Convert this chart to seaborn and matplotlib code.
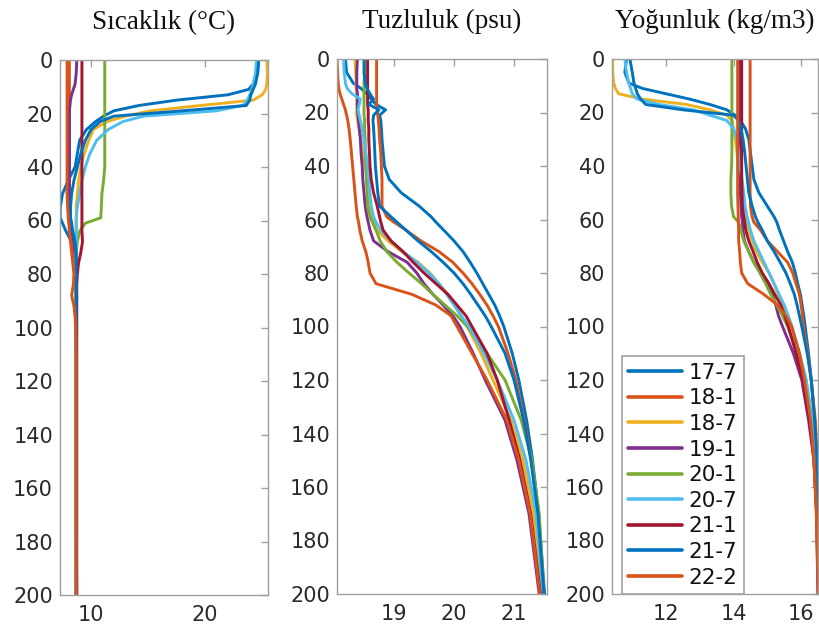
import numpy as np
import pandas as pd
import matplotlib
matplotlib.use("Agg")
import matplotlib.pyplot as plt
import seaborn as sns

# ---- data -------------------------------------------------------------
series = ["17-7", "18-1", "18-7", "19-1", "20-1", "20-7", "21-1", "21-7", "22-2"]
colors = ["#0072BD", "#D95319", "#EDB120", "#7E2F8E", "#77AC30",
          "#4DBEEE", "#A2142F", "#0072BD", "#D95319"]

depth = [0, 5, 9, 11, 13, 15, 17, 19, 21, 23, 26, 30, 35, 40, 45, 50, 55, 59,
         61, 64, 68, 72, 76, 80, 84, 88, 92, 96, 100, 110, 120, 135, 150, 170, 200]

# temperature (°C)
t_17_7 = [24.6, 24.5, 24.2, 23.8, 22.0, 17.5, 14.2, 12.0, 11.1, 10.4, 9.6, 9.0, 8.8, 8.6, 8.0, 7.5, 7.3, 7.3,
          7.5, 7.8, 8.3, 8.6, 8.7, 8.7, 8.7, 8.7, 8.7, 8.7, 8.7, 8.7, 8.7, 8.7, 8.7, 8.7, 8.7]
t_18_1 = [8.1, 8.1, 8.1, 8.1, 8.1, 8.1, 8.1, 8.1, 8.1, 8.1, 8.1, 8.1, 8.1, 8.1, 8.1, 8.1, 8.15, 8.2,
          8.25, 8.3, 8.4, 8.5, 8.6, 8.7, 8.7, 8.7, 8.7, 8.7, 8.7, 8.7, 8.7, 8.7, 8.7, 8.7, 8.75]
t_18_7 = [25.4, 25.45, 25.4, 25.3, 25.0, 24.2, 19.6, 15.2, 13.0, 11.4, 10.2, 9.8, 9.4, 9.1, 8.9, 8.8, 8.7, 8.7,
          8.7, 8.7, 8.7, 8.7, 8.7, 8.7, 8.7, 8.7, 8.7, 8.7, 8.7, 8.7, 8.7, 8.7, 8.7, 8.7, 8.7]
t_19_1 = [8.75, 8.7, 8.6, 8.45, 8.3, 8.2, 8.15, 8.1, 8.1, 8.1, 8.1, 8.1, 8.1, 8.1, 8.1, 8.1, 8.1, 8.1,
          8.15, 8.3, 8.5, 8.6, 8.7, 8.7, 8.7, 8.7, 8.7, 8.7, 8.7, 8.7, 8.7, 8.7, 8.7, 8.7, 8.7]
t_20_1 = [11.2, 11.2, 11.2, 11.2, 11.2, 11.2, 11.2, 11.2, 11.2, 11.2, 11.2, 11.2, 11.2, 11.2, 11.1, 10.95, 10.9, 10.85,
          9.5, 9.0, 8.8, 8.7, 8.65, 8.6, 8.6, 8.65, 8.7, 8.7, 8.7, 8.7, 8.7, 8.7, 8.7, 8.7, 8.7]
t_20_7 = [24.5, 24.4, 24.2, 24.1, 23.9, 23.7, 23.3, 21.0, 14.6, 12.8, 11.5, 10.5, 9.9, 9.5, 9.2, 9.0, 8.8, 8.7,
          8.7, 8.7, 8.7, 8.7, 8.7, 8.7, 8.7, 8.7, 8.7, 8.7, 8.7, 8.7, 8.7, 8.7, 8.7, 8.7, 8.7]
t_21_1 = [9.2, 9.2, 9.2, 9.2, 9.2, 9.2, 9.2, 9.2, 9.2, 9.2, 9.2, 9.2, 9.2, 9.2, 9.2, 9.2, 9.2, 9.2,
          9.2, 9.2, 9.25, 9.1, 8.9, 8.8, 8.75, 8.75, 8.75, 8.75, 8.75, 8.75, 8.75, 8.75, 8.75, 8.75, 8.75]
t_21_7 = [24.7, 24.6, 24.4, 24.2, 24.0, 23.9, 23.6, 18.0, 12.0, 10.8, 10.0, 9.5, 9.1, 8.8, 8.5, 8.3, 8.2, 8.2,
          8.3, 8.4, 8.6, 8.7, 8.7, 8.7, 8.7, 8.7, 8.7, 8.7, 8.7, 8.7, 8.7, 8.7, 8.7, 8.7, 8.7]
t_22_2 = [7.9, 7.9, 7.9, 7.9, 7.9, 7.9, 7.9, 7.9, 7.9, 7.9, 7.9, 7.9, 7.9, 7.9, 7.9, 7.9, 7.95, 8.0,
          8.05, 8.1, 8.2, 8.3, 8.4, 8.5, 8.45, 8.3, 8.5, 8.6, 8.65, 8.7, 8.7, 8.7, 8.7, 8.7, 8.7]

# salinity (psu)
s_17_7 = [18.19, 18.21, 18.32, 18.45, 18.55, 18.62, 18.70, 18.86, 18.76, 18.78, 18.79, 18.80, 18.82, 18.84, 18.92, 19.12, 19.42, 19.62,
          19.70, 19.83, 20.00, 20.15, 20.27, 20.38, 20.48, 20.58, 20.68, 20.76, 20.83, 20.97, 21.08, 21.21, 21.31, 21.41, 21.51]
s_18_1 = [18.71, 18.71, 18.71, 18.71, 18.71, 18.71, 18.71, 18.72, 18.73, 18.74, 18.75, 18.76, 18.78, 18.79, 18.80, 18.80, 18.80, 18.88,
          19.00, 19.20, 19.45, 19.75, 19.98, 20.15, 20.30, 20.43, 20.55, 20.65, 20.74, 20.90, 21.03, 21.17, 21.29, 21.40, 21.50]
s_18_7 = [18.35, 18.36, 18.37, 18.37, 18.38, 18.38, 18.38, 18.38, 18.38, 18.39, 18.42, 18.45, 18.48, 18.52, 18.55, 18.57, 18.58, 18.62,
          18.66, 18.72, 18.90, 19.13, 19.40, 19.60, 19.75, 19.90, 20.02, 20.12, 20.22, 20.45, 20.65, 20.95, 21.15, 21.33, 21.47]
s_19_1 = [18.39, 18.38, 18.38, 18.38, 18.39, 18.39, 18.39, 18.39, 18.40, 18.41, 18.42, 18.44, 18.45, 18.47, 18.48, 18.50, 18.52, 18.55,
          18.57, 18.60, 18.66, 18.90, 19.22, 19.38, 19.50, 19.65, 19.82, 19.98, 20.10, 20.32, 20.52, 20.85, 21.05, 21.25, 21.42]
s_20_1 = [18.52, 18.51, 18.50, 18.50, 18.50, 18.50, 18.50, 18.50, 18.50, 18.51, 18.51, 18.52, 18.52, 18.53, 18.54, 18.55, 18.56, 18.60,
          18.64, 18.70, 18.77, 18.88, 19.05, 19.25, 19.46, 19.65, 19.85, 20.05, 20.22, 20.55, 20.85, 21.12, 21.30, 21.42, 21.50]
s_20_7 = [18.16, 18.17, 18.19, 18.22, 18.30, 18.44, 18.42, 18.40, 18.42, 18.44, 18.47, 18.50, 18.53, 18.56, 18.58, 18.60, 18.62, 18.66,
          18.70, 18.78, 18.95, 19.15, 19.38, 19.58, 19.75, 19.88, 20.00, 20.12, 20.25, 20.50, 20.72, 21.00, 21.20, 21.37, 21.48]
s_21_1 = [18.56, 18.56, 18.56, 18.56, 18.56, 18.56, 18.56, 18.57, 18.57, 18.57, 18.58, 18.58, 18.59, 18.60, 18.62, 18.66, 18.72, 18.76,
          18.78, 18.82, 18.95, 19.15, 19.32, 19.50, 19.70, 19.90, 20.05, 20.20, 20.30, 20.55, 20.72, 20.92, 21.10, 21.28, 21.44]
s_21_7 = [18.50, 18.50, 18.52, 18.55, 18.60, 18.66, 18.58, 18.75, 18.66, 18.65, 18.66, 18.67, 18.68, 18.69, 18.71, 18.73, 18.76, 18.95,
          19.05, 19.20, 19.40, 19.62, 19.82, 20.00, 20.15, 20.28, 20.40, 20.52, 20.62, 20.85, 21.00, 21.16, 21.28, 21.40, 21.50]
s_22_2 = [18.05, 18.06, 18.07, 18.08, 18.10, 18.13, 18.16, 18.19, 18.21, 18.23, 18.25, 18.27, 18.29, 18.31, 18.33, 18.35, 18.37, 18.39,
          18.41, 18.43, 18.47, 18.53, 18.57, 18.60, 18.70, 19.30, 19.70, 19.95, 20.05, 20.30, 20.55, 20.88, 21.08, 21.27, 21.43]

# density (kg/m3)
r_17_7 = [10.83, 10.78, 10.90, 11.30, 12.00, 12.70, 13.30, 13.80, 14.05, 14.20, 14.35, 14.45, 14.50, 14.55, 14.60, 14.75, 15.00, 15.20,
          15.28, 15.36, 15.48, 15.60, 15.74, 15.83, 15.90, 15.98, 16.03, 16.08, 16.12, 16.22, 16.30, 16.40, 16.46, 16.52, 16.58]
r_18_1 = [14.49, 14.49, 14.49, 14.49, 14.49, 14.49, 14.49, 14.49, 14.49, 14.49, 14.49, 14.49, 14.49, 14.49, 14.49, 14.49, 14.50, 14.55,
          14.60, 14.80, 15.00, 15.30, 15.60, 15.75, 15.85, 15.95, 16.00, 16.04, 16.07, 16.20, 16.30, 16.42, 16.48, 16.53, 16.58]
r_18_7 = [10.42, 10.42, 10.45, 10.50, 10.60, 11.30, 12.60, 13.30, 13.80, 13.95, 14.00, 14.05, 14.10, 14.15, 14.20, 14.24, 14.30, 14.36,
          14.39, 14.45, 14.55, 14.68, 14.85, 15.05, 15.20, 15.32, 15.45, 15.58, 15.70, 15.95, 16.15, 16.33, 16.43, 16.50, 16.55]
r_19_1 = [14.19, 14.19, 14.19, 14.19, 14.19, 14.19, 14.19, 14.19, 14.19, 14.19, 14.19, 14.19, 14.19, 14.19, 14.19, 14.20, 14.22, 14.24,
          14.26, 14.28, 14.32, 14.45, 14.60, 14.80, 15.00, 15.15, 15.25, 15.33, 15.45, 15.77, 16.02, 16.22, 16.38, 16.46, 16.50]
r_20_1 = [13.95, 13.95, 13.95, 13.95, 13.95, 13.95, 13.95, 13.95, 13.95, 13.95, 13.95, 13.95, 13.95, 13.94, 13.92, 13.92, 13.94, 14.00,
          14.15, 14.22, 14.30, 14.45, 14.60, 14.78, 14.95, 15.10, 15.28, 15.45, 15.60, 15.90, 16.10, 16.30, 16.42, 16.50, 16.56]
r_20_7 = [10.78, 10.83, 10.90, 10.95, 11.00, 11.15, 11.80, 12.80, 13.30, 13.80, 14.00, 14.10, 14.15, 14.19, 14.25, 14.30, 14.34, 14.40,
          14.44, 14.50, 14.60, 14.75, 14.90, 15.05, 15.20, 15.35, 15.50, 15.62, 15.73, 15.95, 16.15, 16.32, 16.42, 16.50, 16.56]
r_21_1 = [14.24, 14.24, 14.24, 14.24, 14.24, 14.24, 14.24, 14.24, 14.24, 14.24, 14.24, 14.24, 14.24, 14.24, 14.24, 14.25, 14.26, 14.30,
          14.33, 14.36, 14.45, 14.58, 14.70, 14.85, 15.05, 15.22, 15.40, 15.52, 15.62, 15.85, 16.05, 16.25, 16.38, 16.46, 16.51]
r_21_7 = [10.93, 11.00, 11.05, 11.10, 11.15, 11.25, 11.40, 12.50, 14.00, 14.15, 14.22, 14.28, 14.33, 14.37, 14.41, 14.45, 14.55, 14.65,
          14.72, 14.85, 15.00, 15.20, 15.38, 15.55, 15.68, 15.80, 15.88, 15.95, 16.02, 16.18, 16.30, 16.40, 16.47, 16.53, 16.58]
r_22_2 = [14.12, 14.12, 14.12, 14.12, 14.12, 14.12, 14.12, 14.12, 14.12, 14.12, 14.12, 14.12, 14.12, 14.12, 14.12, 14.12, 14.13, 14.14,
          14.14, 14.15, 14.15, 14.18, 14.20, 14.24, 14.42, 14.90, 15.30, 15.55, 15.72, 15.95, 16.10, 16.28, 16.38, 16.45, 16.50]

temperature = [t_17_7, t_18_1, t_18_7, t_19_1, t_20_1, t_20_7, t_21_1, t_21_7, t_22_2]
salinity = [s_17_7, s_18_1, s_18_7, s_19_1, s_20_1, s_20_7, s_21_1, s_21_7, s_22_2]
density = [r_17_7, r_18_1, r_18_7, r_19_1, r_20_1, r_20_7, r_21_1, r_21_7, r_22_2]

titles = ["Sıcaklık (°C)", "Tuzluluk (psu)", "Yoğunluk (kg/m3)"]
x_limits = [(7.28, 25.5), (18.05, 21.55), (10.4, 16.5)]
x_ticks = [[10, 20], [19, 20, 21], [12, 14, 16]]
y_ticks = list(range(0, 201, 20))


def long_form(profiles):
    frames = []
    for name, values in zip(series, profiles):
        frames.append(pd.DataFrame({"depth": depth, "value": values, "series": name}))
    return pd.concat(frames, ignore_index=True)


# ---- figure -----------------------------------------------------------
sns.set_style("white")
plt.rcParams["font.family"] = ["DejaVu Sans"]

fig = plt.figure(figsize=(8.19, 6.31), dpi=100)
W, H = 819.0, 631.0
boxes = [(60, 268, 60, 595), (337, 547, 59, 594), (612, 818, 59, 594)]

palette = dict(zip(series, colors))
spine_color = "#a0a0a0"
label_color = "#2a2a2a"

for i, (profiles, (l, r, t, b)) in enumerate(zip([temperature, salinity, density], boxes)):
    ax = fig.add_axes([l / W, 1 - b / H, (r - l) / W, (b - t) / H])
    df = long_form(profiles)
    sns.lineplot(data=df, x="value", y="depth", hue="series", hue_order=series,
                 palette=palette, sort=False, estimator=None, linewidth=2.1,
                 legend=(i == 2), ax=ax)
    ax.set_xlim(*x_limits[i])
    ax.set_ylim(200, 0)
    ax.set_xticks(x_ticks[i])
    ax.set_yticks(y_ticks)
    ax.set_xlabel("")
    ax.set_ylabel("")
    for sp in ax.spines.values():
        sp.set_visible(True)
        sp.set_color(spine_color)
        sp.set_linewidth(1.0)
    ax.tick_params(axis="both", direction="in", length=5, width=1,
                   color=spine_color, labelcolor=label_color, labelsize=15,
                   top=True, right=True)
    ax.tick_params(axis="x", pad=7)
    ax.tick_params(axis="y", pad=5)
    ax.set_title(titles[i], fontsize=19.5, family="Liberation Serif",
                 color="#111111", pad=22)
    if i == 2:
        handles, labels = ax.get_legend_handles_labels()
        for h in handles:
            h.set_linewidth(2.6)
        leg = ax.legend(handles, labels, loc="lower left",
                        bbox_to_anchor=((622 - l) / (r - l), 0.0),
                        borderaxespad=0.0, fontsize=15.5, frameon=True,
                        fancybox=False, edgecolor=spine_color, framealpha=1,
                        handlelength=2.5, handletextpad=0.3,
                        labelspacing=0.26, borderpad=0.3)
        leg.get_frame().set_linewidth(1.2)
        for txt in leg.get_texts():
            txt.set_color("#111111")

fig.savefig("out.png", dpi=100)
